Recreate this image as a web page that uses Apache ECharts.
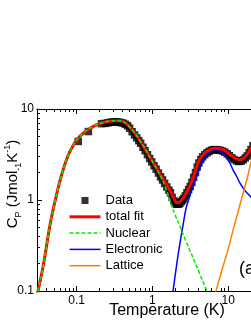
<!DOCTYPE html>
<html><head><meta charset="utf-8">
<script src="https://cdn.jsdelivr.net/npm/echarts@6/dist/echarts.min.js"></script>
<style>html,body{margin:0;padding:0;background:#fff}#c{width:251px;height:325px}</style>
</head><body><div id="c"></div>
<script>
// Measured data (black squares)
const dataT = [0.105,0.143,0.213,0.24,0.26,0.28,0.30,0.32,0.34,0.36,0.38,0.41,0.44,0.47,0.50,0.54,0.58,0.62,0.66,0.70,0.75,0.80,0.86,0.92,0.98,1.05,1.12,1.20,1.28,1.36,1.45,1.55,1.65,1.73,1.82,1.92,2.0,2.07,2.14,2.22,2.3,2.4,2.5,2.6,2.72,2.85,3.0,3.16,3.32,3.5,3.7,3.9,4.1,4.35,4.6,4.9,5.25,5.6,6.0,6.4,6.8,7.3,7.8,8.4,9.0,9.7,10.4,11.2,12.0,12.9,13.8,14.8,15.8,16.8,17.8,18.9,20.0,21.2];
const dataC = [4.4,5.65,6.9,6.95,7.05,7.15,7.2,7.2,7.2,7.15,7.1,7.0,6.8,6.55,6.15,5.63,5.19,4.82,4.49,4.2,3.8,3.48,3.15,2.86,2.62,2.38,2.18,1.98,1.8,1.66,1.52,1.39,1.28,1.2,1.07,0.98,0.93,0.9,0.9,0.9,0.92,0.96,1.0,1.04,1.11,1.2,1.3,1.41,1.56,1.77,2.0,2.3,2.55,2.78,2.98,3.15,3.3,3.42,3.52,3.57,3.58,3.56,3.52,3.45,3.36,3.22,3.07,2.9,2.78,2.69,2.65,2.67,2.76,2.9,3.05,3.3,3.58,3.95];
// total fit
const fitT = [0.03,0.031,0.0365,0.0446,0.0519,0.0635,0.0816,0.11,0.166,0.261,0.33,0.38,0.514,0.695,0.94,1.27,1.73,2.0,2.11,2.3,2.58,3.16,3.6,4.07,4.6,5.25,6.74,8.67,11.2,14.4,17.6,20,23];
const fitC = [0.085,0.1,0.195,0.535,0.97,1.9,3.43,5.0,6.45,7.33,7.45,7.42,6.2,4.41,2.89,1.9,1.25,0.97,0.93,0.96,1.07,1.47,1.95,2.66,3.1,3.43,3.73,3.57,3.02,2.77,3.14,3.73,5.0];
// Nuclear
const nucT = [0.03,0.031,0.0365,0.0446,0.0519,0.0635,0.0816,0.11,0.166,0.261,0.33,0.38,0.514,0.695,0.94,1.27,1.5,1.65,1.81,2.0,2.34,2.8,3.49,4.2,5.25,5.6];
const nucC = [0.085,0.1,0.195,0.535,0.97,1.9,3.43,5.0,6.45,7.33,7.45,7.42,6.2,4.41,2.89,1.85,1.35,1.08,0.84,0.68,0.5,0.345,0.225,0.155,0.1,0.088];
// Electronic
const eleT = [1.8,1.87,2.0,2.15,2.3,2.45,2.6,2.75,2.9,3.16,3.5,4.0,4.5,5.0,5.6,6.2,6.8,7.5,8.5,9.5,10.5,11.7,13,14.5,16.5,19.5,23];
const eleC = [0.08,0.1,0.15,0.23,0.33,0.45,0.6,0.78,0.92,1.15,1.5,2.0,2.55,3.0,3.35,3.55,3.57,3.48,3.25,2.9,2.55,2.1,1.8,1.5,1.28,1.1,0.92];
// Lattice
const latT = [6.6,6.9,8,10,12,13.7,16,18,20,23];
const latC = [0.088,0.1,0.155,0.29,0.52,0.78,1.25,1.8,2.6,4.0];

const xMajor = [0.1, 1, 10];
const xMinor = [0.04,0.05,0.06,0.07,0.08,0.09,0.2,0.3,0.4,0.5,0.6,0.7,0.8,0.9,2,3,4,5,6,7,8,9,20,30,40,50,60,70,80,90];
const yMajor = [0.1, 1, 10];
const yMinor = [0.2,0.3,0.4,0.5,0.6,0.7,0.8,0.9,2,3,4,5,6,7,8,9];
const names = ['Data','total fit','Nuclear','Electronic','Lattice'];

const FONT = '"Liberation Sans", Arial, sans-serif';
const zip = (a, b) => a.map((v, i) => [v, b[i]]);
const fmt = v => String(v);

function xAx(pos, ticks, len, main) {
  return {
    type: 'log', logBase: 10, min: 0.03, max: 100, position: pos,
    axisLine: { show: main, lineStyle: { color: '#000', width: 1 } },
    axisTick: { show: true, inside: true, length: len, customValues: ticks, lineStyle: { color: '#000', width: 1 } },
    axisLabel: (pos === 'bottom' && main) ? { show: true, customValues: xMajor, formatter: fmt, margin: 4, fontSize: 12, color: '#000', fontFamily: FONT } : { show: false },
    splitLine: { show: false }, minorTick: { show: false },
    name: (pos === 'bottom' && main) ? 'Temperature (K)' : '',
    nameLocation: 'middle', nameGap: 12, nameMoveOverlap: false,
    nameTextStyle: { fontSize: 16, color: '#000', fontFamily: FONT, padding: [0, 7, 0, 0] }
  };
}
function yAx(ticks, len, main) {
  return {
    type: 'log', logBase: 10, min: 0.1, max: 10, position: 'left',
    axisLine: { show: main, lineStyle: { color: '#000', width: 1 } },
    axisTick: { show: true, inside: true, length: len, customValues: ticks, lineStyle: { color: '#000', width: 1 } },
    axisLabel: main ? { show: true, customValues: yMajor, formatter: fmt, margin: 3, fontSize: 12, color: '#000', fontFamily: FONT } : { show: false },
    splitLine: { show: false }, minorTick: { show: false },
    name: main ? '{m|C}{s|P}{m| (Jmol}{s|-1}{m|K}{p|-1}{m|)}' : '',
    nameLocation: 'middle', nameRotate: 90, nameGap: 14, nameMoveOverlap: false,
    nameTextStyle: {
      color: '#000', fontFamily: FONT, fontSize: 15, padding: [0, 0, 0, 32],
      rich: {
        m: { fontSize: 15, fontFamily: FONT, color: '#000', lineHeight: 20, verticalAlign: 'middle' },
        s: { fontSize: 9, fontFamily: FONT, color: '#000', lineHeight: 9, verticalAlign: 'bottom' },
        p: { fontSize: 9, fontFamily: FONT, color: '#000', lineHeight: 9, verticalAlign: 'top' }
      }
    }
  };
}

const noSym = { opacity: 0 };
const chart = echarts.init(document.getElementById('c'), null, { renderer: 'canvas' });
chart.setOption({
  animation: false,
  backgroundColor: '#fff',
  grid: { left: 37, right: -53, top: 109, bottom: 34, containLabel: false, outerBoundsMode: 'none' },
  xAxis: [xAx('bottom', xMajor, 5, true), xAx('bottom', xMinor, 3, false), xAx('top', xMajor, 5, true), xAx('top', xMinor, 3, false)],
  yAxis: [yAx(yMajor, 5, true), yAx(yMinor, 3, false)],
  legend: {
    orient: 'vertical', left: 68, top: 194, itemWidth: 31, itemHeight: 7, itemGap: 3.3,
    selectedMode: false, padding: 0, symbolKeepAspect: true,
    textStyle: { fontSize: 13, color: '#000', fontFamily: FONT },
    lineStyle: { width: 'inherit' },
    data: [
      { name: names[0], icon: 'path://M0,0L10,0L10,10L0,10Z' },
      { name: names[1], itemStyle: noSym },
      { name: names[2], itemStyle: noSym },
      { name: names[3], itemStyle: noSym },
      { name: names[4], itemStyle: noSym }
    ]
  },
  graphic: [{ type: 'text', left: 239, top: 260, style: { text: '(a)', fontSize: 18, fill: '#000', fontFamily: FONT } }],
  series: [
    { name: 'Data', type: 'scatter', data: zip(dataT, dataC), symbol: 'rect', symbolSize: 7.5, itemStyle: { color: '#000' }, z: 2 },
    { name: 'Electronic', type: 'line', data: zip(eleT, eleC), showSymbol: false, symbol: 'none', smooth: 0.4, lineStyle: { color: '#0000ff', width: 1.5 }, itemStyle: { color: '#0000ff' }, z: 3 },
    { name: 'Lattice', type: 'line', data: zip(latT, latC), showSymbol: false, symbol: 'none', smooth: 0.3, lineStyle: { color: '#ff8000', width: 1.5 }, itemStyle: { color: '#ff8000' }, z: 3 },
    { name: 'total fit', type: 'line', data: zip(fitT, fitC), showSymbol: false, symbol: 'none', smooth: 0.4, lineStyle: { color: '#ff0000', width: 3 }, itemStyle: { color: '#ff0000' }, z: 4 },
    { name: 'Nuclear', type: 'line', data: zip(nucT, nucC), showSymbol: false, symbol: 'none', smooth: 0.4, lineStyle: { color: '#00ee00', width: 1.5, type: [4, 2] }, itemStyle: { color: '#00ee00' }, z: 5 }
  ]
});
</script></body></html>
